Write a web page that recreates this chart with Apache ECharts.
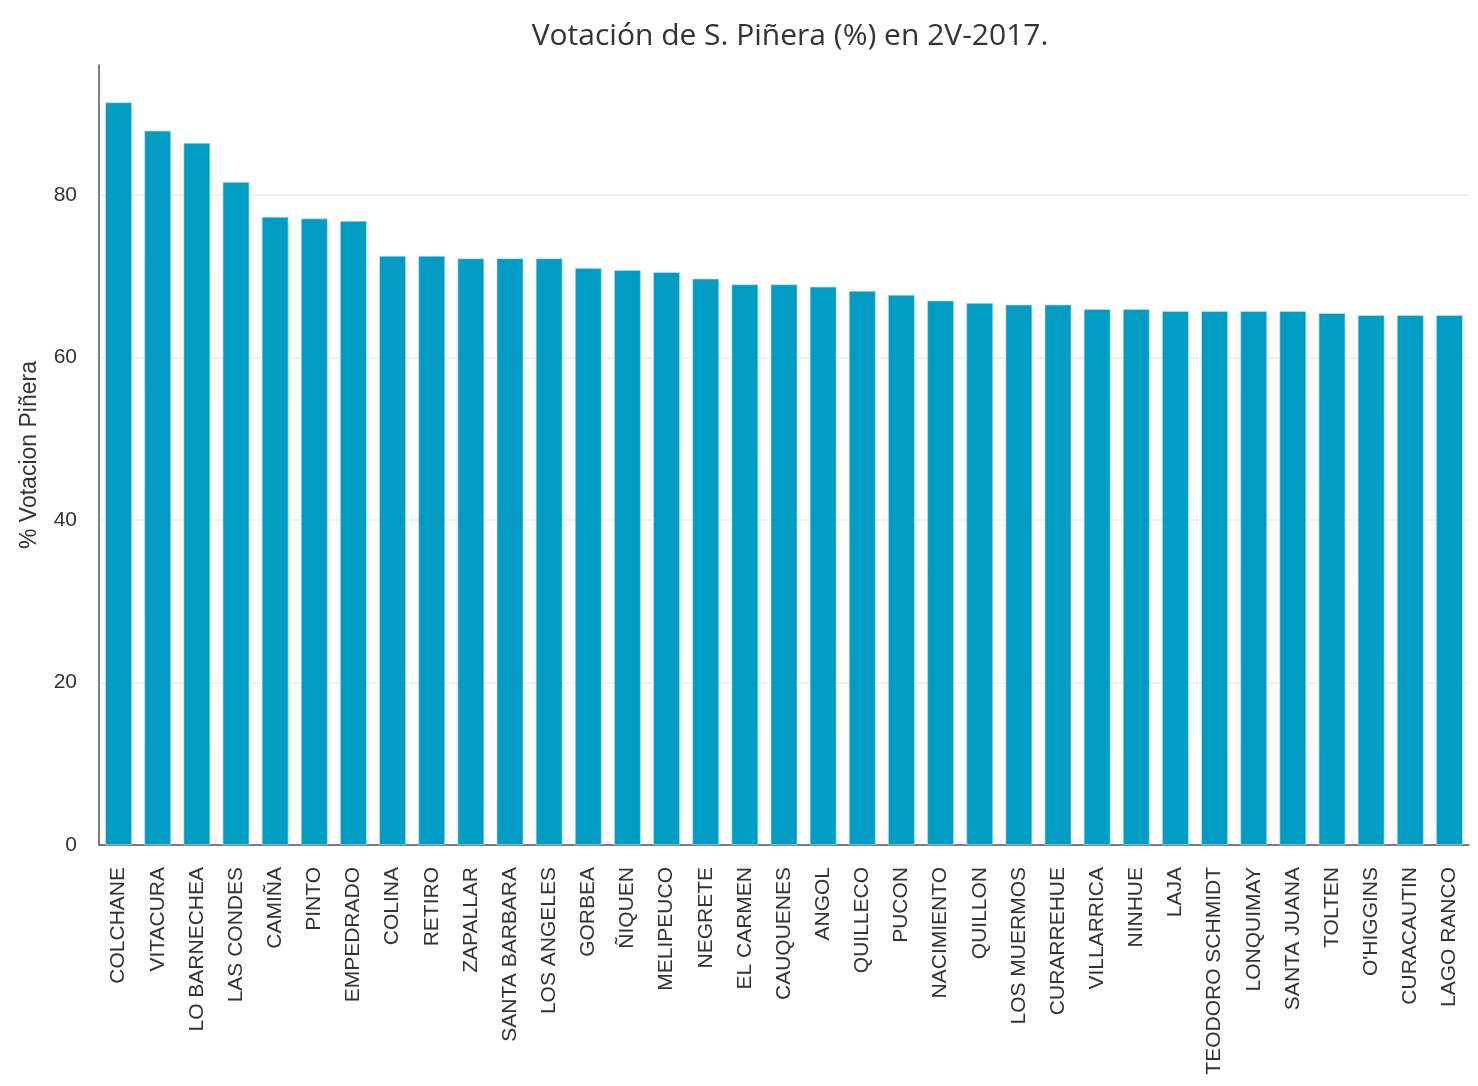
<!DOCTYPE html>
<html>
<head>
<meta charset="utf-8">
<script src="https://cdn.jsdelivr.net/npm/echarts@6/dist/echarts.min.js"></script>
<style>
    html, body { margin: 0; padding: 0; background: #fff; }
    #main { width: 1478px; height: 1086px; }
</style>
</head>
<body>
<div id="main"></div>
<script>
// comunas ordenadas por votación
var comunas = ["COLCHANE", "VITACURA", "LO BARNECHEA", "LAS CONDES", "CAMIÑA", "PINTO", "EMPEDRADO",
    "COLINA", "RETIRO", "ZAPALLAR", "SANTA BARBARA", "LOS ANGELES", "GORBEA", "ÑIQUEN", "MELIPEUCO",
    "NEGRETE", "EL CARMEN", "CAUQUENES", "ANGOL", "QUILLECO", "PUCON", "NACIMIENTO", "QUILLON",
    "LOS MUERMOS", "CURARREHUE", "VILLARRICA", "NINHUE", "LAJA", "TEODORO SCHMIDT", "LONQUIMAY",
    "SANTA JUANA", "TOLTEN", "O'HIGGINS", "CURACAUTIN", "LAGO RANCO"];
var votacion = [91.4, 87.9, 86.4, 81.6, 77.3, 77.1, 76.8,
    72.5, 72.5, 72.2, 72.2, 72.2, 71.0, 70.75, 70.5,
    69.7, 69.0, 69.0, 68.7, 68.2, 67.7, 67.0, 66.7,
    66.5, 66.5, 65.95, 65.95, 65.7, 65.7, 65.7,
    65.7, 65.45, 65.2, 65.2, 65.2];
var yTicks = [0, 20, 40, 60, 80];

(function () {
    var myChart = echarts.init(document.getElementById("main"));
    var option = {
        title: {
            text: "Votación de S. Piñera (%) en 2V-2017.",
            left: 785,
            top: 16,
            textAlign: 'center',
            textStyle: {
                fontFamily: "Open Sans",
                fontWeight: 'normal',
                fontSize: 30,
                color: "#333"
            }
        },
        grid: {
            left: 99,
            right: 9,
            top: 65,
            bottom: 241,
            containLabel: false
        },
        xAxis: {
            type: 'category',
            data: comunas,
            axisTick: { show: false },
            axisLine: {
                lineStyle: { color: "#555", width: 1.5 }
            },
            axisLabel: {
                rotate: 90,
                interval: 0,
                margin: 22,
                fontFamily: "Liberation Sans",
                fontSize: 21,
                color: "#333"
            }
        },
        yAxis: {
            type: 'value',
            min: 0,
            max: 96,
            interval: 20,
            name: "% Votacion Piñera",
            nameLocation: 'middle',
            nameGap: 58,
            nameTextStyle: {
                fontFamily: "Liberation Sans",
                fontSize: 23,
                color: "#333"
            },
            axisLine: {
                show: true,
                lineStyle: { color: "#555", width: 1.5 }
            },
            axisTick: { show: false },
            axisLabel: {
                margin: 22,
                showMaxLabel: false,
                fontFamily: "Liberation Sans",
                fontSize: 21,
                color: "#333",
                formatter: function (v) {
                    return yTicks.indexOf(v) >= 0 ? String(v) : '';
                }
            },
            splitLine: {
                showMaxLine: false,
                lineStyle: { color: "#ececec", width: 1.5 }
            }
        },
        series: [
            {
                name: 'Votación',
                type: 'bar',
                data: votacion,
                barWidth: '68%',
                itemStyle: {
                    color: "#019cc4",
                    borderColor: "#bfe6f0",
                    borderWidth: 0.6
                }
            }
        ]
    };
    myChart.setOption(option);
    window.addEventListener("resize", function () {
        myChart.resize();
    })
})();
</script>
</body>
</html>
